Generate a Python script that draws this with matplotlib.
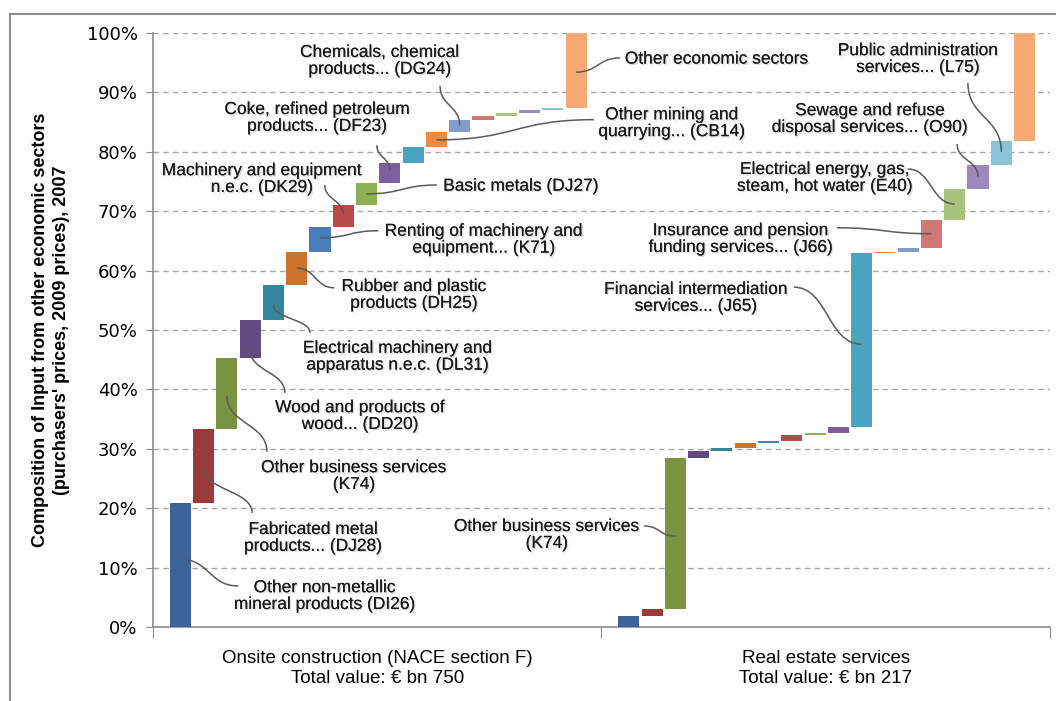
import numpy as np
import matplotlib
matplotlib.use("Agg")
import matplotlib.pyplot as plt
from matplotlib.path import Path
from matplotlib.patches import PathPatch
from matplotlib.lines import Line2D
from matplotlib.ticker import PercentFormatter
import matplotlib.patheffects as pe

# share of input (%) per supplying sector, in stacking order
ONSITE_VALUES = [20.9, 12.4, 12.0, 6.3, 6.0, 5.5, 4.3, 3.7, 3.6,
                 3.4, 2.7, 2.5, 2.1, 0.6, 0.6, 0.5, 0.3, 12.6]
REALESTATE_VALUES = [1.9, 1.1, 25.4, 1.2, 0.6, 0.7, 0.4, 1.0, 0.3,
                     1.1, 29.2, 0.3, 0.6, 4.7, 5.3, 4.0, 4.0, 18.2]

GROUP_LABELS = ["Onsite construction (NACE section F)\nTotal value: € bn 750",
                "Real estate services\nTotal value: € bn 217"]

SERIES_COLORS = [
    "#3b6598", "#9a3b39", "#7a9341", "#624c7f", "#35869c", "#cd7330",
    "#4a7ebb", "#ba4a47", "#8db052", "#7d5fa0", "#4ba4bd", "#ec8b3f",
    "#829ccb", "#d17876", "#a8c47c", "#9d88bc", "#8ac4d6", "#f8a875",
]

Y_LABEL = ("Composition of Input from other economic sectors\n"
           "(purchasers' prices, 2009 prices), 2007")

# (group, bar index, text, text x, text y, line start x, line start y, line end y, tangent)
CALLOUTS = [
    (0, 12, "Chemicals, chemical\nproducts... (DG24)", 0.506, 95.3, 0.640, 91.1, 84.4, "v"),
    (0, 17, "Other economic sectors", 1.052, 95.6, 1.041, 95.8, 93.4, "h"),
    (0, 9, "Coke, refined petroleum\nproducts... (DF23)", 0.366, 85.7, 0.499, 81.1, 76.9, "v"),
    (0, 11, "Other mining and\nquarrying... (CB14)", 1.157, 84.8, 0.983, 85.4, 82.0, "h"),
    (0, 7, "Machinery and equipment\nn.e.c. (DK29)", 0.243, 75.4, 0.383, 74.4, 69.4, "v"),
    (0, 8, "Basic metals (DJ27)", 0.647, 74.2, 0.633, 74.4, 72.9, "h"),
    (0, 6, "Renting of machinery and\nequipment... (K71)", 0.738, 65.2, 0.502, 66.7, 65.5, "h"),
    (0, 5, "Rubber and plastic\nproducts (DH25)", 0.582, 55.9, 0.404, 57.1, 60.4, "h"),
    (0, 4, "Electrical machinery and\napparatus n.e.c. (DL31)", 0.546, 45.5, 0.350, 49.5, 54.2, "v"),
    (0, 3, "Wood and products of\nwood... (DD20)", 0.462, 35.5, 0.294, 39.4, 46.6, "v"),
    (0, 2, "Other business services\n(K74)", 0.448, 25.4, 0.254, 29.5, 38.9, "v"),
    (0, 1, "Fabricated metal\nproducts... (DJ28)", 0.357, 15.0, 0.221, 19.2, 26.8, "v"),
    (0, 0, "Other non-metallic\nmineral products (DI26)", 0.383, 5.2, 0.190, 6.9, 11.4, "h"),
    (1, 2, "Other business services\n(K74)", 0.878, 15.5, 1.095, 17.0, 15.3, "h"),
    (1, 10, "Financial intermediation\nservices... (J65)", 1.211, 55.4, 1.429, 57.2, 47.6, "h"),
    (1, 13, "Insurance and pension\nfunding services... (J66)", 1.311, 65.3, 1.525, 67.2, 66.2, "h"),
    (1, 14, "Electrical energy, gas,\nsteam, hot water (E40)", 1.498, 75.6, 1.683, 77.1, 71.2, "h"),
    (1, 15, "Sewage and refuse\ndisposal services... (O90)", 1.599, 85.5, 1.793, 81.3, 75.8, "v"),
    (1, 16, "Public administration\nservices... (L75)", 1.706, 95.6, 1.817, 91.6, 80.0, "v"),
]

BAR_OFFSET = 0.061
BAR_STEP   = 0.0519
BAR_WIDTH  = 0.047

plt.rcParams["font.family"] = ["Liberation Sans", "DejaVu Sans"]

fig = plt.figure(figsize=(10.56, 7.01), dpi=100, facecolor="white")
ax = fig.add_axes([0.1449, 0.1056, 0.8494, 0.8474])


def bar_x(group, idx):
    return group + BAR_OFFSET + idx * BAR_STEP


for g, vals in enumerate([ONSITE_VALUES, REALESTATE_VALUES]):
    vals = np.array(vals)
    bottoms = np.concatenate([[0], np.cumsum(vals)[:-1]])
    xs = [bar_x(g, i) for i in range(len(vals))]
    ax.bar(xs, vals, bottom=bottoms, width=BAR_WIDTH, color=SERIES_COLORS,
           edgecolor="none", zorder=3)

ax.set_xlim(0, 2)
ax.set_ylim(0, 100)
ax.set_yticks(np.arange(0, 101, 10))
ax.yaxis.set_major_formatter(PercentFormatter(decimals=0))
ax.set_xticks([0, 1, 2])
ax.set_xticklabels(["", "", ""])
for y in range(10, 101, 10):
    ax.axhline(y, color="#a6a6a6", lw=1, ls=(0, (4, 3)), zorder=1)

for s in ["top", "right"]:
    ax.spines[s].set_visible(False)
for s in ["left", "bottom"]:
    ax.spines[s].set_color("#8c8c8c")
    ax.spines[s].set_linewidth(1.2)
ax.tick_params(axis="y", length=5, color="#8c8c8c", labelsize=13, pad=6)
ax.tick_params(axis="x", length=8, color="#8c8c8c")
for lab in ax.get_yticklabels():
    lab.set_fontfamily("DejaVu Sans")

ax.set_ylabel(Y_LABEL, fontsize=13, fontweight="bold", linespacing=1.3, labelpad=12)

for g, txt in enumerate(GROUP_LABELS):
    ax.text(g + 0.5, -3.9, txt, ha="center", va="top", fontsize=13.5,
            linespacing=1.25, transform=ax.transData)

shadow = [pe.withSimplePatchShadow(offset=(1, -1), shadow_rgbFace="#9a9a9a", alpha=0.35),
          pe.Normal()]

for g, idx, txt, tx, ty, sx, sy, by, tangent in CALLOUTS:
    ha = "left" if "\n" not in txt else "center"
    ax.text(tx, ty, txt, ha=ha, va="center", fontsize=12.5, color="#1a1a1a",
            linespacing=1.15, zorder=5, path_effects=shadow)
    bx = bar_x(g, idx)
    if tangent == "h":
        mx = (sx + bx) / 2
        verts = [(sx, sy), (mx, sy), (mx, by), (bx, by)]
    else:
        my = (sy + by) / 2
        verts = [(sx, sy), (sx, my), (bx, my), (bx, by)]
    path = Path(verts, [Path.MOVETO, Path.CURVE4, Path.CURVE4, Path.CURVE4])
    ax.add_patch(PathPatch(path, fc="none", ec="#5a5a5a", lw=1.1, zorder=4))

# outer chart border
fig.add_artist(Line2D([10 / 1056, 1], [1 - 14 / 701, 1 - 14 / 701],
                      transform=fig.transFigure, color="#8c8c8c", lw=1.5))
fig.add_artist(Line2D([10 / 1056, 10 / 1056], [0, 1 - 14 / 701],
                      transform=fig.transFigure, color="#8c8c8c", lw=1.5))

fig.savefig("out.png", dpi=100, facecolor="white")
